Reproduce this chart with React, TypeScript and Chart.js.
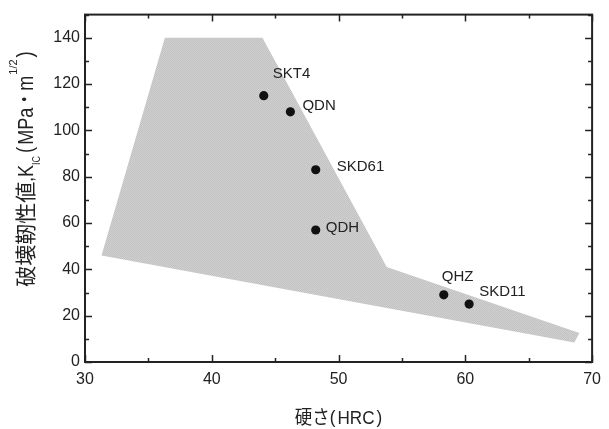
import React, { useEffect, useRef } from "react";
import { Chart, registerables } from "chart.js";

Chart.register(...registerables);

// Steel grades: hardness (HRC) vs. fracture toughness K_IC (MPa·m^1/2)
const steelNames = ["SKT4", "QDN", "SKD61", "QDH", "QHZ", "SKD11"];
const hardness = [44.1, 46.2, 48.2, 48.2, 58.3, 60.3];
const toughness = [115, 108, 83, 57, 29, 25];

// Outline of the shaded property band (closed polygon)
const bandHardness = [31.3, 36.3, 44.0, 53.8, 69.0, 68.6, 31.3];
const bandToughness = [46, 140, 140, 41, 12.5, 8.4, 46];

// Axis ticks
const xTickValues = [30, 40, 50, 60, 70];
const yTickValues = [0, 20, 40, 60, 80, 100, 120, 140];
const xMinorValues = [35, 45, 55, 65];
const yMinorValues = [10, 30, 50, 70, 90, 110, 130, 150];

// Pixel offsets of each grade label from its marker (left edge, text centre)
const labelOffsets: [number, number][] = [
  [9, -23],
  [12, -7],
  [21, -4],
  [10, -3],
  [-2, -19],
  [10, -13.5],
];

const LATIN = '"Liberation Sans", Arial, "Noto Sans CJK JP", sans-serif';
const CJK = '"Noto Sans CJK JP", "Liberation Sans", sans-serif';
const INK = "#222222";

type Run = { t: string; font: string; size: number; sx: number; shift: number; gap?: number; pre?: number };

// Axis titles as runs of text (subscript / superscript handled by size and shift)
const xTitleRuns: Run[] = [
  { t: "硬さ", font: CJK, size: 19, sx: 0.92, shift: 0 },
  { t: "(", font: LATIN, size: 19, sx: 0.9, shift: -1, pre: 0, gap: 2 },
  { t: "HRC", font: LATIN, size: 18, sx: 0.95, shift: 0 },
  { t: ")", font: LATIN, size: 19, sx: 0.9, shift: -1, pre: 2 },
];

const yTitleRuns: Run[] = [
  { t: "破壊靭性値", font: CJK, size: 21, sx: 1, shift: 0 },
  { t: ",", font: LATIN, size: 21, sx: 0.8, shift: 0 },
  { t: "K", font: LATIN, size: 22, sx: 0.82, shift: 0 },
  { t: "IC", font: LATIN, size: 10, sx: 0.9, shift: 7 },
  { t: "(", font: LATIN, size: 22, sx: 0.85, shift: -1, pre: 3, gap: 2 },
  { t: "MPa", font: LATIN, size: 22, sx: 0.82, shift: 0 },
  { t: "・", font: CJK, size: 20, sx: 0.85, shift: -1 },
  { t: "m", font: LATIN, size: 22, sx: 0.82, shift: 0 },
  { t: "1/2", font: LATIN, size: 11, sx: 1, shift: -16, pre: 1 },
  { t: ")", font: LATIN, size: 22, sx: 0.85, shift: -1, pre: 2 },
];

function runsWidth(ctx: CanvasRenderingContext2D, runs: Run[]) {
  let w = 0;
  runs.forEach((r) => {
    ctx.font = `${r.size}px ${r.font}`;
    w += (r.pre || 0) + ctx.measureText(r.t).width * r.sx + (r.gap || 0);
  });
  return w;
}

// Draws runs centred on local x = 0 with the baseline at local y = baseline
function drawRuns(ctx: CanvasRenderingContext2D, runs: Run[], baseline: number) {
  const total = runsWidth(ctx, runs);
  let cx = -total / 2;
  ctx.textAlign = "left";
  ctx.textBaseline = "alphabetic";
  runs.forEach((r) => {
    ctx.font = `${r.size}px ${r.font}`;
    cx += r.pre || 0;
    ctx.save();
    ctx.translate(cx, baseline + r.shift);
    ctx.scale(r.sx, 1);
    ctx.fillText(r.t, 0, 0);
    ctx.restore();
    cx += ctx.measureText(r.t).width * r.sx + (r.gap || 0);
  });
}

function makeBandPattern(): CanvasPattern | string {
  const c = document.createElement("canvas");
  c.width = 4;
  c.height = 4;
  const g = c.getContext("2d");
  if (!g) return "#cbcbcb";
  g.fillStyle = "#d0d0d0";
  g.fillRect(0, 0, 4, 4);
  g.fillStyle = "#c2c2c2";
  for (let i = 0; i < 4; i++) {
    g.fillRect(i, i, 1, 1);
    g.fillRect((i + 2) % 4, i, 1, 1);
  }
  const p = g.createPattern(c, "repeat");
  return p || "#cbcbcb";
}

const framePlugin = {
  id: "frameAndTitles",
  afterDatasetsDraw(chart: any) {
    const ctx: CanvasRenderingContext2D = chart.ctx;
    const xs = chart.scales.x;
    const ys = chart.scales.y;
    // grade labels
    ctx.save();
    ctx.fillStyle = INK;
    ctx.font = `15px ${LATIN}`;
    ctx.textBaseline = "alphabetic";
    ctx.textAlign = "left";
    steelNames.forEach((name, i) => {
      const px = xs.getPixelForValue(hardness[i]);
      const py = ys.getPixelForValue(toughness[i]);
      const [dx, dy] = labelOffsets[i];
      ctx.fillText(name, px + dx, py + dy + 5.4);
    });
    ctx.restore();
  },
  afterDraw(chart: any) {
    const ctx: CanvasRenderingContext2D = chart.ctx;
    const { left, right, top, bottom } = chart.chartArea;
    const xs = chart.scales.x;
    const ys = chart.scales.y;
    ctx.save();
    ctx.strokeStyle = INK;
    ctx.lineWidth = 2;
    ctx.strokeRect(left, top, right - left, bottom - top);
    ctx.lineWidth = 1.5;
    const major = 7;
    const minor = 4;
    ctx.beginPath();
    const xTick = (v: number, len: number) => {
      const px = Math.round(xs.getPixelForValue(v)) + 0.5;
      ctx.moveTo(px, bottom);
      ctx.lineTo(px, bottom - len);
      ctx.moveTo(px, top);
      ctx.lineTo(px, top + len);
    };
    const yTick = (v: number, len: number) => {
      const py = Math.round(ys.getPixelForValue(v)) + 0.5;
      ctx.moveTo(left, py);
      ctx.lineTo(left + len, py);
      ctx.moveTo(right, py);
      ctx.lineTo(right - len, py);
    };
    xTickValues.forEach((v) => xTick(v, major));
    xMinorValues.forEach((v) => xTick(v, minor));
    yTickValues.forEach((v) => yTick(v, major));
    yMinorValues.forEach((v) => yTick(v, minor));
    ctx.stroke();
    ctx.restore();

    ctx.save();
    ctx.fillStyle = INK;
    // x-axis title
    ctx.save();
    ctx.translate((left + right) / 2, 0);
    drawRuns(ctx, xTitleRuns, 424);
    ctx.restore();
    // y-axis title, rotated
    ctx.save();
    ctx.translate(0, 169);
    ctx.rotate(-Math.PI / 2);
    drawRuns(ctx, yTitleRuns, 33);
    ctx.restore();
    ctx.restore();
  },
};

export default function App() {
  const ref = useRef<HTMLCanvasElement | null>(null);

  useEffect(() => {
    if (!ref.current) return;
    const chart = new Chart(ref.current, {
      type: "scatter",
      data: {
        datasets: [
          {
            type: "scatter",
            label: "grades",
            data: hardness.map((h, i) => ({ x: h, y: toughness[i] })),
            backgroundColor: "#111111",
            borderWidth: 0,
            pointRadius: 4.6,
            order: 0,
          },
          {
            type: "line",
            label: "band",
            data: bandHardness.map((h, i) => ({ x: h, y: bandToughness[i] })),
            showLine: true,
            fill: "shape",
            backgroundColor: makeBandPattern() as any,
            borderWidth: 0,
            borderColor: "rgba(0,0,0,0)",
            pointRadius: 0,
            tension: 0,
            order: 1,
          } as any,
        ],
      },
      options: {
        responsive: false,
        animation: false,
        layout: { padding: { top: 11, right: 16, left: 0, bottom: 0 } },
        plugins: {
          legend: { display: false },
          tooltip: { enabled: false },
        },
        scales: {
          x: {
            type: "linear",
            min: 30,
            max: 70,
            grid: { display: false, drawTicks: false },
            border: { display: false },
            afterBuildTicks: (s: any) => {
              s.ticks = xTickValues.map((v) => ({ value: v }));
            },
            afterFit: (s: any) => {
              s.height = 67;
            },
            ticks: {
              color: INK,
              font: { family: LATIN, size: 16 },
              padding: 8,
              maxRotation: 0,
            },
          },
          y: {
            type: "linear",
            min: 0,
            max: 150,
            grid: { display: false, drawTicks: false },
            border: { display: false },
            afterBuildTicks: (s: any) => {
              s.ticks = yTickValues.map((v) => ({ value: v }));
            },
            afterFit: (s: any) => {
              s.width = 85;
            },
            ticks: {
              color: INK,
              font: { family: LATIN, size: 16 },
              padding: 5,
            },
          },
        },
      },
      plugins: [framePlugin],
    });
    return () => chart.destroy();
  }, []);

  return (
    <div style={{ position: "fixed", left: 0, top: 0, width: 609, height: 429, background: "#fff" }}>
      <canvas ref={ref} width={609} height={429} />
    </div>
  );
}
